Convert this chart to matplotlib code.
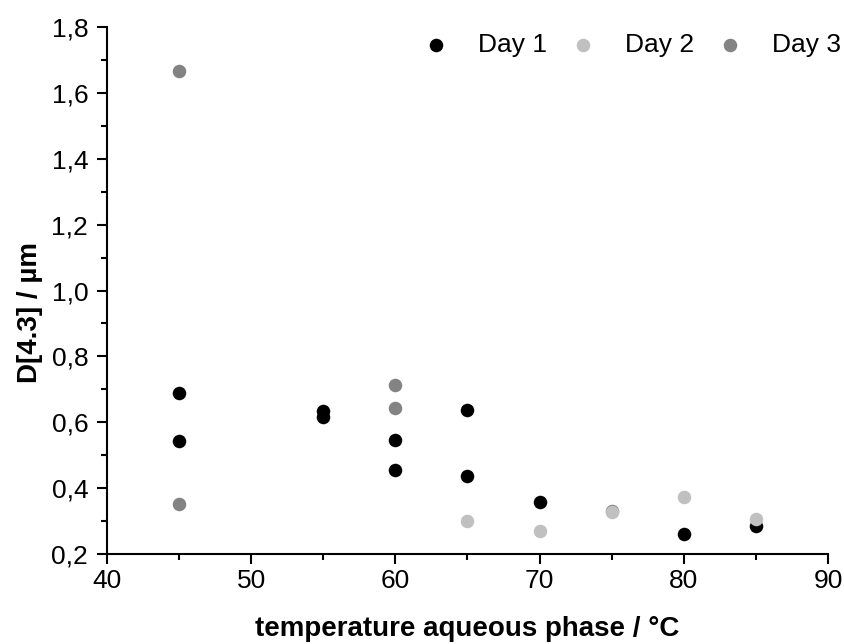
import matplotlib
matplotlib.use("Agg")
import matplotlib.pyplot as plt
from matplotlib.ticker import FuncFormatter, MultipleLocator

plt.rcParams['font.family'] = ['Liberation Sans', 'DejaVu Sans']

# data
day1_x = [45, 45, 55, 55, 60, 60, 65, 65, 70, 80, 85]
day1_y = [0.689, 0.542, 0.634, 0.616, 0.545, 0.456, 0.637, 0.437, 0.357, 0.260, 0.284]

day2_x = [65, 70, 75, 80, 85]
day2_y = [0.300, 0.271, 0.329, 0.374, 0.306]

day3_x = [45, 45, 60, 60, 75]
day3_y = [1.667, 0.351, 0.712, 0.643, 0.331]

fig = plt.figure(figsize=(8.45, 6.44), dpi=100)
ax = fig.add_axes([107/845, 1-554/644, 721/845, 527/644])

ms = 95
h1 = ax.scatter(day1_x, day1_y, s=ms, color='black', linewidths=0, zorder=3, label='Day 1')
h3 = ax.scatter(day3_x, day3_y, s=ms, color='#838383', linewidths=0, zorder=4, label='Day 3')
h2 = ax.scatter(day2_x, day2_y, s=ms, color='#c0c0c0', linewidths=0, zorder=5, label='Day 2')

ax.set_xlim(40, 90)
ax.set_ylim(0.2, 1.8)
ax.xaxis.set_major_locator(MultipleLocator(10))
ax.xaxis.set_minor_locator(MultipleLocator(5))
ax.yaxis.set_major_locator(MultipleLocator(0.2))
ax.yaxis.set_minor_locator(MultipleLocator(0.1))
ax.yaxis.set_major_formatter(FuncFormatter(lambda v, p: f"{v:.1f}".replace('.', ',')))

for s in ['top', 'right']:
    ax.spines[s].set_visible(False)
for s in ['left', 'bottom']:
    ax.spines[s].set_linewidth(1.5)

ax.tick_params(which='major', direction='out', length=7.5, width=1.5, labelsize=19)
ax.tick_params(which='minor', direction='out', length=4, width=1.5)
ax.tick_params(axis='x', which='major', pad=3)
ax.tick_params(axis='y', which='major', pad=6)

ax.set_xlabel('temperature aqueous phase / °C', fontsize=20, fontweight='bold')
ax.set_ylabel('D[4.3] / µm', fontsize=20, fontweight='bold')
ax.xaxis.set_label_coords(0.5, -0.1176)
ax.yaxis.set_label_coords(-0.0888, 0.459)

fig.legend([h1, h2, h3], ['Day 1', 'Day 2', 'Day 3'], loc='center left',
           bbox_to_anchor=(423/845, 1-45/644), bbox_transform=fig.transFigure,
           ncol=3, frameon=False, fontsize=19, handlelength=1.0, handletextpad=1.09,
           columnspacing=0.86, borderpad=0, borderaxespad=0, scatterpoints=1)

fig.savefig('out.png', dpi=100)
